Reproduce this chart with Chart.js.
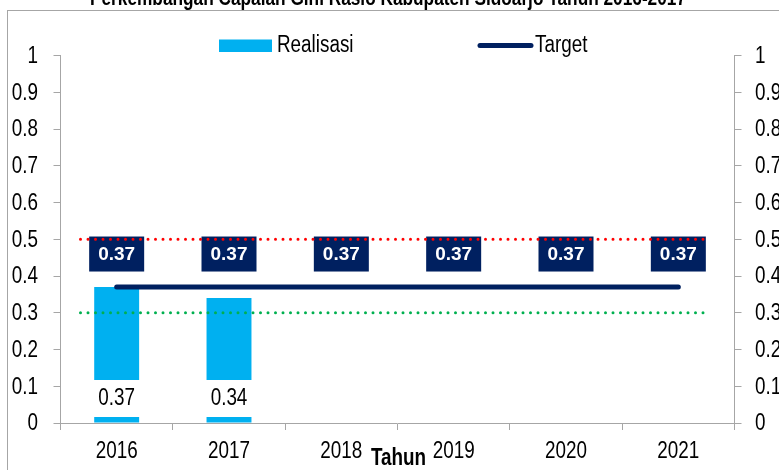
<!DOCTYPE html>
<html>
<head>
<meta charset="utf-8">
<script src="https://cdn.jsdelivr.net/npm/chart.js@4.4.1/dist/chart.umd.min.js"></script>
<style>
  html, body { margin: 0; padding: 0; background: #fff; }
  #wrap { width: 779px; height: 470px; position: relative; }
</style>
</head>
<body>
<div id="wrap"><canvas id="myChart" width="779" height="470"></canvas></div>
<script>
// data
var tahun = ['2016', '2017', '2018', '2019', '2020', '2021'];
var realisasi = [0.37, 0.34, null, null, null, null];
var target = [0.37, 0.37, 0.37, 0.37, 0.37, 0.37];
var batasAtas = 0.5;   // red dotted
var batasBawah = 0.3;  // green dotted
var yMin = 0, yMax = 1, yStep = 0.1;
var judul = 'Perkembangan Capaian Gini Rasio Kabupaten Sidoarjo Tahun 2016-2017';
var judulX = 'Tahun';

var ARIAL = '"Liberation Sans", Arial, sans-serif';
var BIRU = '#00B0F0';
var NAVY = '#002060';
var ABU = '#a6a6a6';
var SEMPIT = 0.82; // no narrow font installed, squeeze the regular one

// draw condensed text (Arial Narrow look)
function tulis(c, txt, x, y, font, align) {
  c.save();
  c.font = font;
  c.textAlign = align || 'center';
  c.textBaseline = 'middle';
  c.translate(x, y);
  c.scale(SEMPIT, 1);
  c.fillText(txt, 0, 0);
  c.restore();
}

function fmt(v) { return String(Math.round(v * 10) / 10); }

var decor = {
  id: 'decor',
  beforeDraw: function(chart) {
    var c = chart.ctx;
    c.save();
    c.fillStyle = '#fff';
    c.fillRect(0, 0, chart.width, chart.height);
    // outer frame (only top & left visible)
    c.strokeStyle = ABU;
    c.lineWidth = 1;
    c.strokeRect(7.5, 10.5, chart.width + 20, chart.height + 20);
    // title, cut off at the top
    c.fillStyle = '#000';
    c.font = 'bold 22px ' + ARIAL;
    c.textAlign = 'center';
    c.textBaseline = 'alphabetic';
    c.fillText(judul, 388, 5, 596);
    // legend
    var ds = chart.data.datasets;
    c.fillStyle = BIRU;
    c.fillRect(219, 39.5, 53, 12.5);
    c.fillStyle = '#000';
    tulis(c, ds[0].label, 277, 46, '23px ' + ARIAL, 'left');
    c.strokeStyle = NAVY;
    c.lineWidth = 5;
    c.lineCap = 'round';
    c.beginPath();
    c.moveTo(480, 45.5);
    c.lineTo(531, 45.5);
    c.stroke();
    tulis(c, ds[1].label, 535, 46, '23px ' + ARIAL, 'left');
    c.restore();
  },
  afterDatasetsDraw: function(chart) {
    var c = chart.ctx;
    var y = chart.scales.y;
    var area = chart.chartArea;
    c.save();
    // realisasi labels, white box near the base of the bar
    var barMeta = chart.getDatasetMeta(0);
    barMeta.data.forEach(function(bar, i) {
      var v = realisasi[i];
      if (v === null) return;
      var base = y.getPixelForValue(0);
      c.fillStyle = '#fff';
      c.fillRect(bar.x - 26, base - 43, 52, 37);
      c.fillStyle = '#000';
      tulis(c, v.toFixed(2), bar.x, base - 24, '23px ' + ARIAL);
    });
    // target labels, navy boxes above the line
    var lineMeta = chart.getDatasetMeta(1);
    lineMeta.data.forEach(function(pt, i) {
      var cy = y.getPixelForValue(target[i]) - 33;
      c.fillStyle = NAVY;
      c.fillRect(pt.x - 27.5, cy - 17.5, 55, 35);
      c.fillStyle = '#fff';
      c.font = 'bold 19px ' + ARIAL;
      c.textAlign = 'center';
      c.textBaseline = 'middle';
      c.fillText(target[i].toFixed(2), pt.x, cy + 1);
    });
    // dotted reference lines
    c.lineWidth = 3;
    c.lineCap = 'round';
    c.setLineDash([0, 7.5]);
    [[batasAtas, '#ff0000'], [batasBawah, '#00B050']].forEach(function(r) {
      var py = y.getPixelForValue(r[0]);
      c.strokeStyle = r[1];
      c.beginPath();
      c.moveTo(area.left + 20, py);
      c.lineTo(area.right - 31, py);
      c.stroke();
    });
    c.setLineDash([]);
    c.restore();
  },
  afterDraw: function(chart) {
    // tick labels in the condensed look, at the library's tick positions
    var c = chart.ctx;
    var x = chart.scales.x, y = chart.scales.y, y2 = chart.scales.y2;
    var f = '23px ' + ARIAL;
    c.save();
    c.fillStyle = '#000';
    x.ticks.forEach(function(t, i) {
      tulis(c, x.getLabelForValue(t.value), x.getPixelForTick(i), 452, f);
    });
    y.ticks.forEach(function(t, i) {
      tulis(c, fmt(t.value), y.left + 38, y.getPixelForTick(i) + 1, f, 'right');
    });
    y2.ticks.forEach(function(t, i) {
      tulis(c, fmt(t.value), y2.left + 20.5, y2.getPixelForTick(i) + 1, f, 'left');
    });
    // x axis title, overlapping the tick labels
    tulis(c, judulX, (chart.chartArea.left + chart.chartArea.right) / 2 + 1, x.bottom - 11, 'bold 23px ' + ARIAL);
    c.restore();
  }
};

var ctx = document.getElementById('myChart');
var myChart = new Chart(ctx, {
  type: 'bar',
  data: {
    labels: tahun,
    datasets: [{
      label: 'Realisasi',
      data: realisasi,
      backgroundColor: BIRU,
      borderWidth: 0,
      barPercentage: 0.4,
      categoryPercentage: 1,
      order: 2
    }, {
      type: 'line',
      label: 'Target',
      data: target,
      borderColor: NAVY,
      borderWidth: 5,
      borderCapStyle: 'round',
      pointRadius: 0,
      fill: false,
      order: 1
    }]
  },
  options: {
    responsive: false,
    animation: false,
    layout: { padding: { top: 55.5, left: 0, right: 0, bottom: 0 } },
    plugins: {
      legend: { display: false },
      title: { display: false },
      tooltip: { enabled: false }
    },
    scales: {
      x: {
        grid: { drawOnChartArea: false, drawTicks: true, tickLength: 7, color: ABU, offset: true },
        border: { color: ABU },
        ticks: { color: 'rgba(0,0,0,0)', padding: 8, maxRotation: 0, font: { family: ARIAL, size: 20 } },
        afterFit: function(s) { s.height = 47; }
      },
      y: {
        position: 'left',
        min: yMin, max: yMax,
        grid: { drawOnChartArea: false, drawTicks: true, tickLength: 7, color: ABU },
        border: { color: ABU },
        ticks: { stepSize: yStep, color: 'rgba(0,0,0,0)', padding: 15, font: { family: ARIAL, size: 20 } },
        afterFit: function(s) { s.width = 60.5; }
      },
      y2: {
        display: true,
        position: 'right',
        min: yMin, max: yMax,
        grid: { drawOnChartArea: false, drawTicks: true, tickLength: 7, color: ABU },
        border: { color: ABU },
        ticks: { stepSize: yStep, color: 'rgba(0,0,0,0)', padding: 13, font: { family: ARIAL, size: 20 } },
        afterFit: function(s) { s.width = 44.5; }
      }
    }
  },
  plugins: [decor]
});
</script>
</body>
</html>
